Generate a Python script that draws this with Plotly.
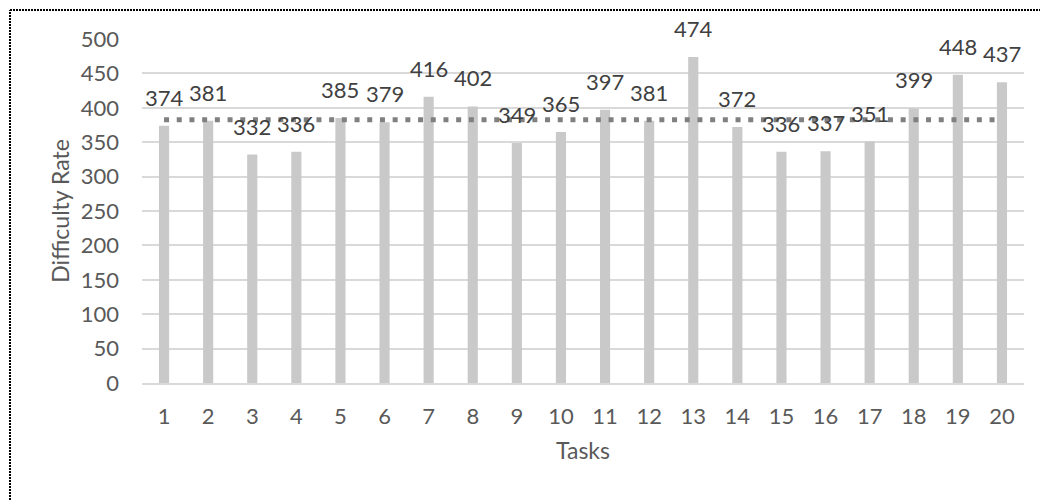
import plotly.graph_objects as go

tasks = [str(i) for i in range(1, 21)]
difficulty = [374, 381, 332, 336, 385, 379, 416, 402, 349, 365,
              397, 381, 474, 372, 336, 337, 351, 399, 448, 437]
average_value = 382.55
y_ticks = [0, 50, 100, 150, 200, 250, 300, 350, 400, 450, 500]

FONT = "Lato"
TEXT = "#595959"

fig = go.Figure()
fig.add_trace(go.Bar(x=tasks, y=difficulty, marker=dict(color="#C9C9C9", line=dict(width=0)),
                     showlegend=False, hoverinfo="x+y"))
fig.add_trace(go.Scatter(x=[tasks[0], tasks[-1]], y=[average_value, average_value], mode="lines",
                         line=dict(color="#808080", width=5, dash="5px,7.7px"),
                         showlegend=False, hoverinfo="skip"))

annotations = []
for i, v in enumerate(difficulty):
    annotations.append(dict(x=i, y=v, text=str(v), showarrow=False, xref="x", yref="y",
                            yanchor="bottom", yshift=13,
                            font=dict(family=FONT, size=22, color="#404040")))

bx0 = (10 - 142) / 882
bx1 = (1040 - 142) / 882
by0 = -117 / 344
by1 = 1 + (39 - 10) / 344
border = dict(color="black", width=2, dash="2px,1px")

fig.update_layout(
    width=1045, height=500,
    margin=dict(l=142, r=21, t=39, b=117),
    paper_bgcolor="white", plot_bgcolor="white",
    bargap=0.77,
    font=dict(family=FONT, size=22, color=TEXT),
    annotations=annotations,
    xaxis=dict(type="category", range=[-0.5, len(tasks) - 0.5], showgrid=False, showline=True,
               linecolor="#D9D9D9", linewidth=2,
               ticks="", ticklabelstandoff=13, tickfont=dict(size=22, color=TEXT),
               title=dict(text="Tasks", font=dict(size=23, color=TEXT), standoff=14)),
    yaxis=dict(range=[0, 500], tickvals=y_ticks, showgrid=True, gridcolor="#D9D9D9", gridwidth=2,
               zeroline=False, showline=False, ticks="", ticklabelstandoff=22,
               tickfont=dict(size=22, color=TEXT),
               title=dict(text="Difficulty Rate", font=dict(size=23, color=TEXT), standoff=4)),
    shapes=[
        dict(type="line", xref="paper", yref="paper", x0=bx0, x1=bx1, y0=by1, y1=by1,
             line=border, layer="above"),
        dict(type="line", xref="paper", yref="paper", x0=bx0, x1=bx0, y0=by0, y1=by1,
             line=border, layer="above"),
    ],
)

fig.write_html("out.html")
